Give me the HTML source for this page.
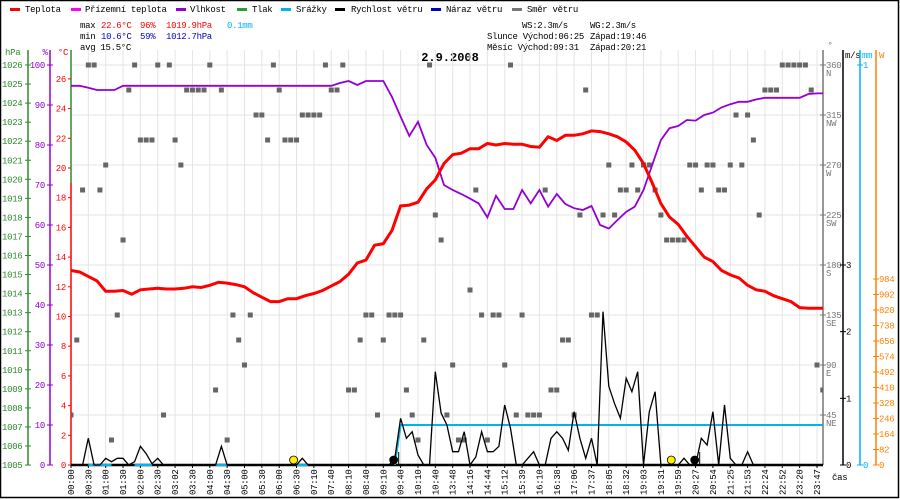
<!DOCTYPE html>
<html><head><meta charset="utf-8"><style>
html,body{margin:0;padding:0;background:#fff}
svg{display:block}
text{font-family:"Liberation Mono",monospace;font-size:9px;letter-spacing:-0.3px}
</style></head><body>
<svg id="chart" width="900" height="500" viewBox="0 0 900 500" xmlns="http://www.w3.org/2000/svg">
<rect x="0" y="0" width="900" height="500" fill="#fff"/>
<rect x="0.5" y="0.5" width="898" height="497" fill="none" stroke="#000" stroke-width="1.5"/>
<g id="legend">
 <g><rect x="10" y="8" width="10" height="3" fill="#f00"/><text x="25" y="12">Teplota</text></g>
 <g><rect x="71" y="8" width="10" height="3" fill="#f0f"/><text x="85" y="12">Přízemní teplota</text></g>
 <g><rect x="176" y="8" width="10" height="3" fill="#9400d3"/><text x="190" y="12">Vlhkost</text></g>
 <g><rect x="237" y="8" width="10" height="3" fill="#339933"/><text x="252" y="12">Tlak</text></g>
 <g><rect x="281" y="8" width="10" height="3" fill="#00b4f0"/><text x="296" y="12">Srážky</text></g>
 <g><rect x="335" y="8" width="10" height="3" fill="#000"/><text x="351" y="12">Rychlost větru</text></g>
 <g><rect x="431" y="8" width="10" height="3" fill="#0000cc"/><text x="446" y="12">Náraz větru</text></g>
 <g><rect x="512" y="8" width="10" height="3" fill="#777"/><text x="527" y="12">Směr větru</text></g>
</g>
<g id="stats">
 <text x="80" y="28">max</text><text x="101" y="28" fill="#f00">22.6°C</text><text x="140" y="28" fill="#f00">96%</text><text x="166" y="28" fill="#f00">1019.9hPa</text><text x="227" y="28" fill="#00b4f0">0.1mm</text>
 <text x="80" y="39">min</text><text x="101" y="39" fill="#00c">10.6°C</text><text x="140" y="39" fill="#00c">59%</text><text x="166" y="39" fill="#00c">1012.7hPa</text>
 <text x="80" y="50">avg 15.5°C</text>
 <text x="522" y="28">WS:2.3m/s</text><text x="590" y="28">WG:2.3m/s</text>
 <text x="487" y="39">Slunce Východ:06:25</text><text x="590" y="39">Západ:19:46</text>
 <text x="487" y="50">Měsíc  Východ:09:31</text><text x="590" y="50">Západ:20:21</text>
</g>
<text x="450" y="61" text-anchor="middle" style="font-size:12px;font-weight:bold;letter-spacing:0">2.9.2008</text>
<g id="grid"></g>
<g id="axes"></g>
<g id="marks"></g>
</svg>
<script>
const times = ["00:00","00:30","01:00","01:30","02:00","02:30","03:02","03:30","04:00","04:30","05:00","05:30","06:00","06:30","07:10","07:40","08:10","08:40","09:10","09:40","10:10","10:40","13:48","14:16","14:44","15:12","15:39","16:10","16:38","17:06","17:37","18:05","18:32","19:03","19:31","19:59","20:27","20:54","21:25","21:53","22:24","22:52","23:20","23:47"];
const temperature = [13.1,13.0,12.7,12.4,11.7,11.7,11.75,11.5,11.8,11.85,11.9,11.85,11.85,11.9,12.0,11.95,12.1,12.3,12.25,12.15,12.0,11.6,11.3,11.0,11.0,11.2,11.2,11.4,11.55,11.75,12.05,12.35,12.85,13.6,13.8,14.8,14.9,15.8,17.45,17.5,17.7,18.6,19.2,20.3,20.9,21.0,21.3,21.3,21.65,21.55,21.65,21.6,21.6,21.45,21.4,22.1,21.85,22.2,22.2,22.3,22.5,22.45,22.3,22.1,21.75,21.2,20.3,19.0,17.6,16.7,16.2,15.4,14.7,14.0,13.7,13.1,12.8,12.6,12.1,11.8,11.7,11.4,11.2,11.0,10.6,10.55,10.55,10.55];
const humidity = [94.8,94.8,94.3,93.75,93.75,93.75,94.8,94.8,94.8,94.8,94.8,94.8,94.8,94.8,94.8,94.8,94.8,94.8,94.8,94.8,94.8,94.8,94.8,94.8,94.8,94.8,94.8,94.8,94.8,94.8,94.8,95.5,96,95,96,96,96,92,87.1,82.25,85.8,80,76.8,70,68.75,67.75,66.6,65.4,61.9,67.3,64,64,68.75,65.4,68.75,64.6,67.75,65.25,64.2,63.75,64.75,60,59.1,61.25,63.3,64.6,68.75,75,81.25,84.2,84.75,86.25,86.1,87.5,88.1,89.4,90.2,90.8,90.8,91.4,91.8,91.8,91.8,91.8,91.8,92.75,92.9,92.9];
const windSpeed = [0,0,0,0.4,0,0,0.1,0.05,0.1,0.1,0,0.05,0.28,0.17,0.02,0.1,0,0,0,0,0,0,0,0,0,0,0.28,0,0,0,0,0,0,0,0,0,0,0,0,0,0.1,0,0,0,0,0,0,0,0,0,0,0,0,0,0,0,0.1,0.7,0.4,0.5,0.15,0,0,1.4,0.78,0.6,0.2,0.2,0.5,0,0.12,0.5,0.2,0.2,0.28,0.9,0.55,0,0,0.1,0.2,0,0,0.4,0.5,0.4,0.22,0.8,0.4,0.1,0.4,0,2.3,1.18,0.92,0.7,1.3,1.1,1.4,0,0.8,1.1,0,0,0,0,0.1,0,0,0.4,0.3,0.8,0,0.9,0.1,0,0,0.2,0,0,0,0,0,0,0,0,0,0,0,0,0];
const windDir = [45,112.5,247.5,360,360,247.5,270,22.5,135,202.5,337.5,360,292.5,292.5,292.5,360,45,360,292.5,270,337.5,337.5,337.5,337.5,360,67.5,337.5,22.5,135,112.5,90,135,315,315,292.5,360,337.5,292.5,292.5,292.5,315,315,315,315,360,337.5,337.5,360,67.5,67.5,112.5,135,135,45,112.5,135,135,135,67.5,45,22.5,112.5,360,225,202.5,45,90,22.5,22.5,157.5,247.5,135,22.5,135,135,90,360,45,135,45,45,45,247.5,67.5,67.5,112.5,112.5,45,225,337.5,135,135,225,270,225,247.5,247.5,270,247.5,270,270,247.5,225,202.5,202.5,202.5,202.5,270,270,247.5,270,270,247.5,247.5,270,315,270,315,292.5,225,337.5,337.5,337.5,360,360,360,360,360,337.5,90,67.5];
const rain = [null,null,null,0,0,0,0,0,null,null,null,0,0,0,0,null,null,null,null,null,null,null,null,null,null,0,0,0,null,null,null,null,null,null,null,null,null,null,null,0,0,0,null,null,null,null,null,null,null,null,null,null,null,null,null,null,0,0.1,0.1,0.1,0.1,0.1,0.1,0.1,0.1,0.1,0.1,0.1,0.1,0.1,0.1,0.1,0.1,0.1,0.1,0.1,0.1,0.1,0.1,0.1,0.1,0.1,0.1,0.1,0.1,0.1,0.1,0.1,0.1,0.1,0.1,0.1,0.1,0.1,0.1,0.1,0.1,0.1,0.1,0.1,0.1,0.1,0.1,0.1,0.1,0.1,0.1,0.1,0.1,0.1,0.1,0.1,0.1,0.1,0.1,0.1,0.1,0.1,0.1,0.1,0.1,0.1,0.1,0.1,0.1,0.1,0.1,0.1,0.1,0.1,0.1];
const hpaTicks = [1026,1025,1024,1023,1022,1021,1020,1019,1018,1017,1016,1015,1014,1013,1012,1011,1010,1009,1008,1007,1006,1005];
const humTicks = [100,90,80,70,60,50,40,30,20,10,0];
const tempTicks = [0,2,4,6,8,10,12,14,16,18,20,22,24,26];
const dirTicks = [45,90,135,180,225,270,315,360];
const dirNames = ["NE","E","SE","S","SW","W","NW","N"];
const msTicks = [0,1,2,3];
const mmTicks = [0,1];
const wTicks = [0,82,164,246,328,410,492,574,656,738,820,902,984];
const events = [{label:"sunrise",i:12.83,type:"sun"},{label:"moonrise",i:18.6,type:"moon"},{label:"sunset",i:34.6,type:"sun"},{label:"moonset",i:35.95,type:"moon"}];

const NS="http://www.w3.org/2000/svg";
const X0=71,X1=823,Y0=465,YT=50;
const labelStep=(817-71)/43;
const xi=i=>X0+labelStep*i;
const xk=k=>X0+labelStep*k/3;
const yT=t=>Y0-14.85*t;
const yH=h=>Y0-4*h;
const yP=p=>65+(1026-p)*19.05;
const yD=d=>Y0-d*400/360;
const yW=w=>Y0-w*66.67;
const yR=r=>Y0-400*r;
const yWatt=v=>Y0-v*186/984;
function mk(tag,attrs,parent){const e=document.createElementNS(NS,tag);for(const a in attrs)e.setAttribute(a,attrs[a]);parent.appendChild(e);return e;}
const grid=document.getElementById('grid'),axes=document.getElementById('axes'),marks=document.getElementById('marks');

for(let i=0;i<times.length;i++){const l=mk('line',{x1:xi(i),x2:xi(i),y1:YT,y2:Y0,stroke:'#e4e4e4','stroke-width':1},grid);

}
for(let d=45;d<=360;d+=45){const l=mk('line',{x1:X0,x2:X1,y1:yD(d),y2:yD(d),stroke:'#e4e4e4','stroke-width':1},grid);

}

function axisLine(x,y1,y2,col,name){const l=mk('line',{x1:x,x2:x,y1:y1,y2:y2,stroke:col,'stroke-width':1.5},axes);}
function label(x,y,txt,col,anchor,name){const t=mk('text',{x:x,y:y,fill:col,'text-anchor':anchor},axes);t.textContent=txt;return t;}
const G='#2e8b2e',P='#9400d3',R='#f00',C='#00b4f0',O='#ff8000',D='#666';
axisLine(28,50,Y0,G,'hpa-axis');label(5,55,'hPa',G,'start','hpa-axis-title');
hpaTicks.forEach(p=>{const y=yP(p);mk('line',{x1:25,x2:31,y1:y,y2:y,stroke:G},axes);label(2,y+3,String(p),G,'start','hpa-tick-label');});
axisLine(50,50,Y0,P,'humidity-axis');label(45,55,'%',P,'middle','humidity-axis-title');
humTicks.forEach(h=>{const y=yH(h);mk('line',{x1:47,x2:53,y1:y,y2:y,stroke:P},axes);label(45,y+3,String(h),P,'end','humidity-tick-label');});
axisLine(71,YT,183,G,'plot-left-border');axisLine(71,183,Y0,R,'temperature-axis');label(63,55,'°C',R,'middle','temperature-axis-title');
tempTicks.forEach(t=>{const y=yT(t);mk('line',{x1:68,x2:71,y1:y,y2:y,stroke:R},axes);label(66,y+3,String(t),R,'end','temperature-tick-label');});

axisLine(823,YT,Y0,'#777','direction-axis');label(830,48,'°','#777','middle','direction-axis-title');
dirTicks.forEach((d,j)=>{const y=yD(d);mk('line',{x1:820,x2:826,y1:y,y2:y,stroke:'#777'},axes);label(826,y+3,String(d),'#777','start','direction-tick-label');label(826,y+11,dirNames[j],'#777','start','direction-name-label');});
axisLine(843,YT,Y0,'#000','wind-speed-axis');label(845,58,'m/s','#000','start','wind-speed-axis-title');
msTicks.forEach(w=>{const y=yW(w);mk('line',{x1:840,x2:846,y1:y,y2:y,stroke:'#000'},axes);label(846,y+3,String(w),'#000','start','wind-speed-tick-label');});
axisLine(860,YT,Y0,C,'rain-axis');label(862,58,'mm',C,'start','rain-axis-title');
mmTicks.forEach(r=>{const y=yR(r);mk('line',{x1:857,x2:863,y1:y,y2:y,stroke:C},axes);label(863,y+3,String(r),C,'start','rain-tick-label');});
axisLine(876,YT,Y0,O,'solar-axis');label(879,58,'W',O,'start','solar-axis-title');
wTicks.forEach(v=>{const y=yWatt(v);mk('line',{x1:873,x2:879,y1:y,y2:y,stroke:O},axes);label(879,y+3,String(v),O,'start','solar-tick-label');});
label(832,480,'čas','#000','start','x-axis-title');

times.forEach((t,i)=>{const x=xi(i);mk('line',{x1:x,x2:x,y1:Y0,y2:Y0+3,stroke:'#000'},axes);
const tx=mk('text',{transform:`translate(${x+3},495) rotate(-90)`},axes);tx.textContent=t;

});

const defs=mk('defs',{},marks);const cp=mk('clipPath',{id:'plotclip'},defs);mk('rect',{x:X0,y:YT,width:X1-X0,height:Y0-YT+2},cp);
const mg=mk('g',{'clip-path':'url(#plotclip)'},marks);

windDir.forEach((d,k)=>{const r=mk('rect',{x:xk(k)-2.5,y:yD(d)-2.5,width:5,height:5,fill:D},mg);

});

function path(pts){let s='',pen=false;pts.forEach(p=>{if(p==null){pen=false;return;}s+=(pen?'L':'M')+p[0].toFixed(1)+','+p[1].toFixed(1);pen=true;});return s;}
const bl=mk('line',{x1:X0,x2:X1,y1:Y0,y2:Y0,stroke:'#000','stroke-width':2.5},mg);


const rp=mk('path',{d:path(rain.map((r,k)=>r==null?null:[xk(k),yR(r)])),fill:'none',stroke:C,'stroke-width':2},mg);


const wp=mk('path',{d:path(windSpeed.map((w,k)=>[xk(k),yW(w)])),fill:'none',stroke:'#000','stroke-width':1.3},mg);


const hp=mk('path',{d:path(humidity.map((h,j)=>[xi(j/2),yH(h)])),fill:'none',stroke:P,'stroke-width':1.8},mg);


const tp=mk('path',{d:path(temperature.map((t,j)=>[xi(j/2),yT(t)])),fill:'none',stroke:R,'stroke-width':3},mg);


events.forEach(ev=>{const x=xi(ev.i);
if(ev.type==='moon'){const l=mk('line',{x1:x+5,x2:x+5,y1:452,y2:Y0,stroke:'#000'},mg);}
const c=mk('circle',{cx:x,cy:460,r:4,fill:ev.type==='sun'?'#ffee00':'#000',stroke:'#000','stroke-width':0.8},mg);

});
</script>
</body></html>
